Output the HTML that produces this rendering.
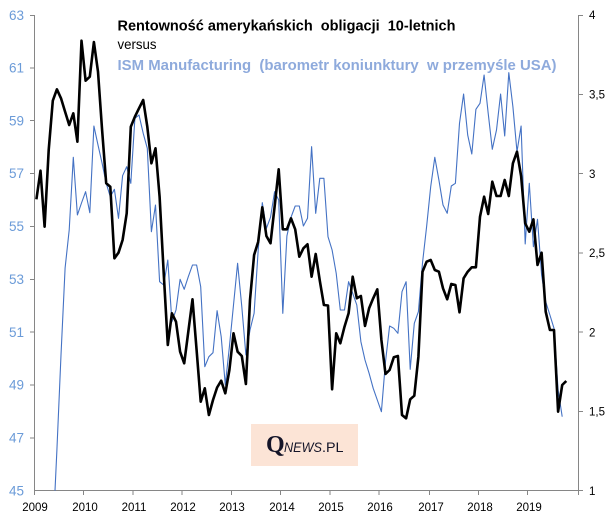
<!DOCTYPE html>
<html>
<head>
<meta charset="utf-8">
<style>
  html,body{margin:0;padding:0;background:#fff;width:615px;height:524px;overflow:hidden;}
  svg{display:block;}
</style>
</head>
<body>
<svg width="615" height="524" viewBox="0 0 615 524" xmlns="http://www.w3.org/2000/svg" style="font-family:'Liberation Sans',sans-serif;">
  <rect x="0" y="0" width="615" height="524" fill="#fff"/>

  <!-- axes -->
  <g stroke="#868686" stroke-width="1" fill="none" shape-rendering="crispEdges">
    <line x1="34.5" y1="15" x2="34.5" y2="491"/>
    <line x1="578.5" y1="15" x2="578.5" y2="491"/>
    <line x1="34.5" y1="490.5" x2="578.5" y2="490.5"/>
    <line x1="30" y1="15.5" x2="34.5" y2="15.5"/>
    <line x1="30" y1="68" x2="34.5" y2="68"/>
    <line x1="30" y1="120.5" x2="34.5" y2="120.5"/>
    <line x1="30" y1="173.5" x2="34.5" y2="173.5"/>
    <line x1="30" y1="226.5" x2="34.5" y2="226.5"/>
    <line x1="30" y1="279.5" x2="34.5" y2="279.5"/>
    <line x1="30" y1="332" x2="34.5" y2="332"/>
    <line x1="30" y1="385" x2="34.5" y2="385"/>
    <line x1="30" y1="438" x2="34.5" y2="438"/>
    <line x1="578.5" y1="15.5" x2="583" y2="15.5"/>
    <line x1="578.5" y1="94.5" x2="583" y2="94.5"/>
    <line x1="578.5" y1="173.5" x2="583" y2="173.5"/>
    <line x1="578.5" y1="253" x2="583" y2="253"/>
    <line x1="578.5" y1="332" x2="583" y2="332"/>
    <line x1="578.5" y1="411.5" x2="583" y2="411.5"/>
    <line x1="578.5" y1="490.5" x2="583" y2="490.5"/>
    <line x1="34.5" y1="490.5" x2="34.5" y2="495"/>
    <line x1="83.5" y1="490.5" x2="83.5" y2="495"/>
    <line x1="133" y1="490.5" x2="133" y2="495"/>
    <line x1="182" y1="490.5" x2="182" y2="495"/>
    <line x1="231.5" y1="490.5" x2="231.5" y2="495"/>
    <line x1="280.5" y1="490.5" x2="280.5" y2="495"/>
    <line x1="330" y1="490.5" x2="330" y2="495"/>
    <line x1="379" y1="490.5" x2="379" y2="495"/>
    <line x1="429.5" y1="490.5" x2="429.5" y2="495"/>
    <line x1="478.5" y1="490.5" x2="478.5" y2="495"/>
    <line x1="527.5" y1="490.5" x2="527.5" y2="495"/>
    <line x1="578.5" y1="490.5" x2="578.5" y2="495"/>
  </g>

  <!-- left labels -->
  <g fill="#6b9bd8" font-size="13.5" text-anchor="end">
    <text x="24" y="20">63</text>
    <text x="24" y="72.5">61</text>
    <text x="24" y="125.3">59</text>
    <text x="24" y="178.2">57</text>
    <text x="24" y="231">55</text>
    <text x="24" y="283.9">53</text>
    <text x="24" y="336.8">51</text>
    <text x="24" y="389.6">49</text>
    <text x="24" y="442.5">47</text>
    <text x="24" y="495.3">45</text>
  </g>

  <!-- right labels -->
  <g fill="#000" font-size="11.5" text-anchor="start">
    <text x="589" y="19.2">4</text>
    <text x="589" y="98.5">3,5</text>
    <text x="589" y="177.8">3</text>
    <text x="589" y="257.1">2,5</text>
    <text x="589" y="336.4">2</text>
    <text x="589" y="415.6">1,5</text>
    <text x="589" y="494.9">1</text>
  </g>

  <!-- x labels -->
  <g fill="#000" font-size="11.5" text-anchor="middle">
    <text x="35" y="511">2009</text>
    <text x="85" y="511">2010</text>
    <text x="134" y="511">2011</text>
    <text x="183" y="511">2012</text>
    <text x="232" y="511">2013</text>
    <text x="282" y="511">2014</text>
    <text x="331" y="511">2015</text>
    <text x="380" y="511">2016</text>
    <text x="431" y="511">2017</text>
    <text x="480" y="511">2018</text>
    <text x="529" y="511">2019</text>
  </g>

  <!-- ISM series (blue, left axis) -->
  <polyline fill="none" stroke="#4472c4" stroke-width="1.1" stroke-linejoin="round"
    points="55.0,490.7 56.9,450 61.0,355 65.1,268 69.2,230 73.3,157.3 77.4,215 81.5,203 85.6,191.7 89.8,212.7 93.9,126 98.0,145 102.1,163.3 106.2,183.3 110.3,196.7 114.4,189.3 118.5,218.3 122.6,175.7 126.7,166.7 130.8,183.3 134.9,118.3 139.0,115 143.2,133.3 147.3,148.3 151.4,231.7 155.5,205 159.6,281.7 163.7,285 167.8,260 171.9,321.7 176.0,310 180.1,279.3 184.2,289.3 188.3,276.7 192.5,265 196.6,265 200.7,286.7 204.8,366.7 208.9,356.7 213.0,352.7 217.1,310.7 221.2,336.7 225.3,385 229.4,346.7 233.5,305 237.6,263.3 241.8,306.7 245.9,355 250.0,330 254.1,313.3 258.2,250 262.3,202.7 266.4,228.3 270.5,217.3 274.6,191.7 278.7,200 282.8,313.3 286.9,236 291.0,217.3 295.2,206 299.3,206 303.4,226 307.5,218.3 311.6,146.7 315.7,213.3 319.8,178.3 323.9,178.3 328.0,236.7 332.1,250 336.2,273.3 340.3,310 344.5,310 348.6,281.7 352.7,293.3 356.8,305 360.9,341.7 365.0,360 369.1,373.3 373.2,388.3 377.3,400 381.4,411.7 385.5,361.7 389.6,326 393.8,328.3 397.9,333.3 402.0,291.7 406.1,281.7 410.2,369.3 414.3,323.3 418.4,311.7 422.5,263 426.6,226.7 430.7,186.7 434.8,157.3 438.9,180 443.0,205 447.2,213.3 451.3,186 455.4,183.3 459.5,123.3 463.6,94 467.7,135 471.8,154 475.9,109.3 480.0,103.3 484.1,75 488.2,113.3 492.3,149.3 496.5,130 500.6,94 504.7,136 508.8,72.7 512.9,106.7 517.0,151.7 521.1,126 525.2,244 529.3,183.3 533.4,246.7 537.5,219.3 541.6,275 545.7,301.7 549.9,315 554.0,328.3 558.1,390 562.2,416.7"/>

  <!-- 10Y yield series (black, right axis) -->
  <polyline fill="none" stroke="#000" stroke-width="2.6" stroke-linejoin="round"
    points="36.4,199.3 40.5,170.7 44.6,226.7 48.7,150 52.8,100.7 56.9,89.3 61.0,98.3 65.1,111.7 69.2,125 73.3,113.3 77.4,141.7 81.5,40.7 85.6,80.7 89.8,76.7 93.9,42 98.0,71.7 102.1,130 106.2,183.3 110.3,186.7 114.4,258.3 118.5,252.7 122.6,240 126.7,213.3 130.8,126.7 134.9,116.7 139.0,108.3 143.2,100 147.3,126.7 151.4,163.3 155.5,148.3 159.6,196.7 163.7,273 167.8,345 171.9,313.3 176.0,321.7 180.1,351.7 184.2,363.3 188.3,331.7 192.5,299.3 196.6,350 200.7,401.7 204.8,388.3 208.9,415 213.0,400 217.1,387.5 221.2,380.7 225.3,393.3 229.4,370 233.5,333.3 237.6,351.7 241.8,356 245.9,384 250.0,300 254.1,255 258.2,241.7 262.3,207.3 266.4,236 270.5,243.3 274.6,206.7 278.7,169.3 282.8,229.3 286.9,229.3 291.0,218.3 295.2,229.3 299.3,256.7 303.4,248.3 307.5,244.3 311.6,276.7 315.7,254 319.8,280.7 323.9,305 328.0,305.5 332.1,389.3 336.2,333.3 340.3,343.3 344.5,326.7 348.6,313.3 352.7,276.7 356.8,298.3 360.9,296 365.0,326 369.1,308.3 373.2,298.3 377.3,289.3 381.4,340 385.5,374 389.6,370 393.8,357.3 397.9,356 402.0,415 406.1,418.3 410.2,399.3 414.3,395.7 418.4,356.7 422.5,271.7 426.6,261.7 430.7,260 434.8,270 438.9,271.7 443.0,288.3 447.2,299.3 451.3,284 455.4,285 459.5,312.3 463.6,278.3 467.7,271.7 471.8,267.3 475.9,267.3 480.0,216.7 484.1,196.7 488.2,214 492.3,181.7 496.5,196 500.6,196 504.7,180 508.8,196 512.9,163.3 517.0,151.7 521.1,176 525.2,223.3 529.3,231.7 533.4,219.3 537.5,265 541.6,252.7 545.7,311.7 549.9,330 554.0,330 558.1,411.7 562.2,385 566.3,381"/>

  <!-- title -->
  <text x="117.5" y="30.7" font-size="14.5" font-weight="bold" fill="#000" textLength="338" lengthAdjust="spacingAndGlyphs" xml:space="preserve">Rentowność amerykańskich  obligacji  10-letnich</text>
  <text x="117.5" y="49" font-size="13.5" fill="#000" textLength="39" lengthAdjust="spacingAndGlyphs">versus</text>
  <text x="117.5" y="70" font-size="14.5" font-weight="bold" fill="#8eaadc" textLength="439" lengthAdjust="spacingAndGlyphs" xml:space="preserve">ISM Manufacturing  (barometr koniunktury  w przemyśle USA)</text>

  <!-- logo -->
  <rect x="251" y="424" width="107" height="42" fill="#fce4d6"/>
  <text x="266" y="452" style="font-family:'Liberation Serif',serif;font-weight:bold;" font-size="24" fill="#141428">Q</text>
  <text x="284" y="452" font-size="13.5" font-style="italic" fill="#141428" textLength="38" lengthAdjust="spacingAndGlyphs">NEWS</text>
  <text x="322" y="452" font-size="13.5" fill="#141428" textLength="21.5" lengthAdjust="spacingAndGlyphs">.PL</text>
</svg>
</body>
</html>
